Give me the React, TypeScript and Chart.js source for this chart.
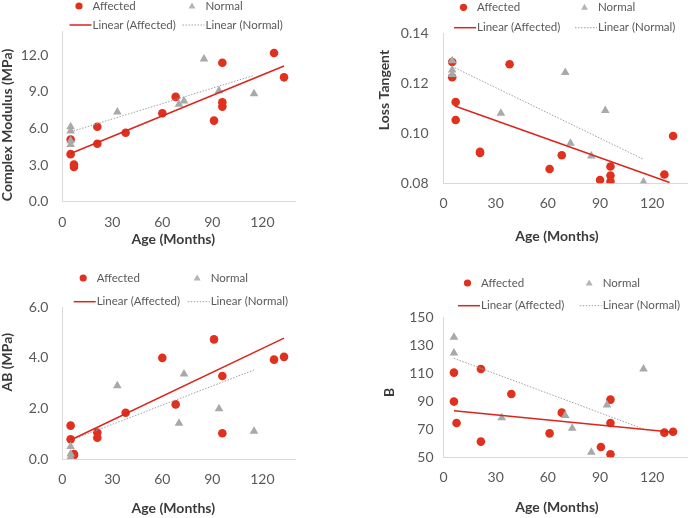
import React, { useEffect, useRef } from "react";
import { Chart, registerables } from "chart.js";

Chart.register(...registerables);

// ---------------- DATA ----------------
const xTicks = [0, 30, 60, 90, 120];

// Panel 1: Complex Modulus (MPa)
const cmAffectedAge = [5, 5, 7, 7, 21, 21, 38, 60, 68, 91, 96, 96, 96, 127, 133];
const cmAffectedVal = [5.1, 3.9, 3.05, 2.85, 6.15, 4.75, 5.65, 7.25, 8.6, 6.65, 11.4, 8.15, 7.8, 12.2, 10.2];
const cmNormalAge = [5, 5, 5, 5, 33, 70, 73, 85, 94, 115];
const cmNormalVal = [6.15, 5.8, 5.0, 4.7, 7.35, 8.0, 8.25, 11.7, 9.1, 8.85];
const cmAffTrendAge = [5, 133];
const cmAffTrendVal = [3.95, 11.13];
const cmNormTrendAge = [5, 115];
const cmNormTrendVal = [5.73, 10.36];
const cmYTicks = [0, 3, 6, 9, 12];

// Panel 2: Loss Tangent
const ltAffectedAge = [5, 5, 7, 7, 21, 21, 38, 61, 68, 90, 96, 96, 96, 127, 132];
const ltAffectedVal = [0.1285, 0.1224, 0.1125, 0.1053, 0.0921, 0.0926, 0.1276, 0.0857, 0.0912, 0.0813, 0.0867, 0.0831, 0.0807, 0.0835, 0.0989];
const ltNormalAge = [5, 5, 5, 33, 70, 73, 85, 93, 115];
const ltNormalVal = [0.129, 0.1253, 0.1235, 0.108, 0.1243, 0.096, 0.0909, 0.1091, 0.0805];
const ltAffTrendAge = [6.5, 130];
const ltAffTrendVal = [0.1109, 0.0803];
const ltNormTrendAge = [5, 115];
const ltNormTrendVal = [0.1267, 0.0896];
const ltYTicks = [0.08, 0.1, 0.12, 0.14];

// Panel 3: AB (MPa)
const abAffectedAge = [5, 5, 7, 7, 21, 21, 38, 60, 68, 91, 96, 96, 127, 133];
const abAffectedVal = [1.32, 0.78, 0.2, 0.15, 1.05, 0.84, 1.83, 4.0, 2.16, 4.73, 3.28, 1.02, 3.93, 4.04];
const abNormalAge = [5, 5, 5, 33, 70, 73, 94, 115];
const abNormalVal = [0.49, 0.2, 0.07, 2.9, 1.41, 3.36, 1.99, 1.1];
const abAffTrendAge = [5, 133];
const abAffTrendVal = [0.75, 4.78];
const abNormTrendAge = [5, 115];
const abNormTrendVal = [0.74, 3.52];
const abYTicks = [0, 2, 4, 6];

// Panel 4: B
const bAffectedAge = [6, 6, 7.5, 21.5, 21.5, 39, 61, 68, 90.5, 96, 96, 96, 127, 132];
const bAffectedVal = [110.5, 89.8, 74.5, 113.1, 61.2, 95.2, 67.1, 81.9, 57.4, 91.2, 74.5, 52.1, 67.6, 68.3];
const bNormalAge = [6, 6, 33.5, 70, 74, 85, 94, 115];
const bNormalVal = [135.7, 124.5, 78.3, 79.8, 70.7, 53.6, 87.4, 113.1];
const bAffTrendAge = [6, 132];
const bAffTrendVal = [83.3, 67.9];
const bNormTrendAge = [6, 115];
const bNormTrendVal = [120.7, 70.2];
const bYTicks = [50, 70, 90, 110, 130, 150];

// ---------------- STYLE ----------------
const FONT = "Lato, 'Open Sans', sans-serif";
const RED = "#e0301e";
const RED_LINE = "#d9261c";
const GRAY = "#a9a9a9";
const GRAY_LINE = "#a0a0a0";
const AXIS = "#d9d9d9";
const TICK_COLOR = "#595959";
const TITLE_COLOR = "#3b3b3b";
const W = 346;
const H = 259;

const zip = (xs: number[], ys: number[]) => xs.map((x, i) => ({ x, y: ys[i] }));

type Panel = {
  left: number;
  top: number;
  yTitle: string;
  affAge: number[];
  affVal: number[];
  normAge: number[];
  normVal: number[];
  affTrendAge: number[];
  affTrendVal: number[];
  normTrendAge: number[];
  normTrendVal: number[];
  yTicks: number[];
  yMin: number;
  yMax: number;
  dec: number;
  area: { l: number; r: number; t: number; b: number };
  yPad: number;
  xTitle: [number, number];
  yTitlePos: [number, number];
  legend: { t1: number; t2: number; r1: number; r2: number };
};

const panels: Panel[] = [
  {
    left: 0, top: 0, yTitle: "Complex Modulus (MPa)",
    affAge: cmAffectedAge, affVal: cmAffectedVal, normAge: cmNormalAge, normVal: cmNormalVal,
    affTrendAge: cmAffTrendAge, affTrendVal: cmAffTrendVal, normTrendAge: cmNormTrendAge, normTrendVal: cmNormTrendVal,
    yTicks: cmYTicks, yMin: 0, yMax: 14, dec: 1,
    area: { l: 62.3, r: 295.7, t: 31, b: 201.7 }, yPad: 14,
    xTitle: [173.3, 239.3], yTitlePos: [7.3, 125],
    legend: { t1: 92.5, t2: 205.5, r1: 6, r2: 25 },
  },
  {
    left: 346, top: 0, yTitle: "Loss Tangent",
    affAge: ltAffectedAge, affVal: ltAffectedVal, normAge: ltNormalAge, normVal: ltNormalVal,
    affTrendAge: ltAffTrendAge, affTrendVal: ltAffTrendVal, normTrendAge: ltNormTrendAge, normTrendVal: ltNormTrendVal,
    yTicks: ltYTicks, yMin: 0.08, yMax: 0.14, dec: 2,
    area: { l: 97.5, r: 341, t: 33.3, b: 183.3 }, yPad: 15,
    xTitle: [211, 236], yTitlePos: [38.3, 90],
    legend: { t1: 131, t2: 252, r1: 7.3, r2: 27.7 },
  },
  {
    left: 0, top: 259, yTitle: "AB (MPa)",
    affAge: abAffectedAge, affVal: abAffectedVal, normAge: abNormalAge, normVal: abNormalVal,
    affTrendAge: abAffTrendAge, affTrendVal: abAffTrendVal, normTrendAge: abNormTrendAge, normTrendVal: abNormTrendVal,
    yTicks: abYTicks, yMin: 0, yMax: 6, dec: 1,
    area: { l: 62.3, r: 295.7, t: 48.3, b: 200 }, yPad: 14,
    xTitle: [173.3, 249.3], yTitlePos: [7.3, 103.3],
    legend: { t1: 96.7, t2: 210.7, r1: 19, r2: 42.7 },
  },
  {
    left: 346, top: 259, yTitle: "B",
    affAge: bAffectedAge, affVal: bAffectedVal, normAge: bNormalAge, normVal: bNormalVal,
    affTrendAge: bAffTrendAge, affTrendVal: bAffTrendVal, normTrendAge: bNormTrendAge, normTrendVal: bNormTrendVal,
    yTicks: bYTicks, yMin: 50, yMax: 150, dec: 0,
    area: { l: 97.5, r: 341, t: 58.3, b: 198.3 }, yPad: 10,
    xTitle: [211, 248.3], yTitlePos: [43.3, 133.3],
    legend: { t1: 135, t2: 256.7, r1: 24, r2: 46.7 },
  },
];

function overlayPlugin(p: Panel) {
  return {
    id: "overlay",
    afterDraw(chart: any) {
      const ctx: CanvasRenderingContext2D = chart.ctx;
      const L = p.legend;
      ctx.save();
      // legend texts
      ctx.font = `11.5px ${FONT}`;
      ctx.fillStyle = TICK_COLOR;
      ctx.textBaseline = "middle";
      ctx.textAlign = "left";
      ctx.fillText("Affected", L.t1, L.r1);
      ctx.fillText("Normal", L.t2, L.r1);
      ctx.fillText("Linear (Affected)", L.t1, L.r2);
      ctx.fillText("Linear (Normal)", L.t2, L.r2);
      // circle marker
      ctx.fillStyle = RED;
      ctx.beginPath();
      ctx.arc(L.t1 - 13.5, L.r1, 3.6, 0, Math.PI * 2);
      ctx.fill();
      // triangle marker
      ctx.fillStyle = "#b5b5b5";
      const tx = L.t2 - 13.5, ty = L.r1 + 0.5, tr = 4;
      ctx.beginPath();
      ctx.moveTo(tx, ty - tr);
      ctx.lineTo(tx + tr * 0.87, ty + tr * 0.5);
      ctx.lineTo(tx - tr * 0.87, ty + tr * 0.5);
      ctx.closePath();
      ctx.fill();
      // solid red line
      ctx.strokeStyle = RED_LINE;
      ctx.lineWidth = 1.5;
      ctx.beginPath();
      ctx.moveTo(L.t1 - 23, L.r2);
      ctx.lineTo(L.t1 - 1, L.r2);
      ctx.stroke();
      // dotted gray line
      ctx.strokeStyle = GRAY_LINE;
      ctx.lineWidth = 1;
      ctx.setLineDash([1.5, 1.5]);
      ctx.beginPath();
      ctx.moveTo(L.t2 - 23, L.r2);
      ctx.lineTo(L.t2 - 1, L.r2);
      ctx.stroke();
      ctx.setLineDash([]);
      // axis titles
      ctx.font = `bold 14px ${FONT}`;
      ctx.fillStyle = TITLE_COLOR;
      ctx.textAlign = "center";
      ctx.textBaseline = "middle";
      ctx.fillText("Age (Months)", p.xTitle[0], p.xTitle[1]);
      ctx.translate(p.yTitlePos[0], p.yTitlePos[1]);
      ctx.rotate(-Math.PI / 2);
      ctx.fillText(p.yTitle, 0, 0);
      ctx.restore();
    },
  };
}

function PanelChart({ p }: { p: Panel }) {
  const ref = useRef<HTMLCanvasElement>(null);
  useEffect(() => {
    const chart = new Chart(ref.current as HTMLCanvasElement, {
      type: "scatter",
      data: {
        datasets: [
          {
            label: "Linear (Affected)",
            data: zip(p.affTrendAge, p.affTrendVal),
            showLine: true,
            borderColor: RED_LINE,
            borderWidth: 1.5,
            pointRadius: 0,
            fill: false,
          },
          {
            label: "Linear (Normal)",
            data: zip(p.normTrendAge, p.normTrendVal),
            showLine: true,
            borderColor: GRAY_LINE,
            borderWidth: 1,
            borderDash: [1.5, 1.5],
            pointRadius: 0,
            fill: false,
          },
          {
            label: "Normal",
            data: zip(p.normAge, p.normVal),
            pointStyle: "triangle",
            pointRadius: 5,
            backgroundColor: GRAY,
            borderColor: GRAY,
            borderWidth: 0,
          },
          {
            label: "Affected",
            data: zip(p.affAge, p.affVal),
            pointStyle: "circle",
            pointRadius: 4.3,
            backgroundColor: RED,
            borderColor: RED,
            borderWidth: 0,
          },
        ],
      } as any,
      options: {
        animation: false,
        responsive: false,
        maintainAspectRatio: false,
        devicePixelRatio: 1,
        layout: { padding: { top: p.area.t, right: W - p.area.r, left: 0, bottom: 0 } },
        plugins: { legend: { display: false }, tooltip: { enabled: false } },
        scales: {
          x: {
            type: "linear",
            min: 0,
            max: 140,
            afterBuildTicks: (s: any) => {
              s.ticks = xTicks.map((v) => ({ value: v }));
            },
            afterFit: (s: any) => {
              s.height = H - p.area.b;
            },
            ticks: {
              padding: 12,
              color: TICK_COLOR,
              font: { family: FONT, size: 14 },
              callback: (v: any) => String(v),
              maxRotation: 0,
            },
            grid: { display: false, drawTicks: false },
            border: { display: true, color: AXIS, width: 1 },
          },
          y: {
            type: "linear",
            min: p.yMin,
            max: p.yMax,
            afterBuildTicks: (s: any) => {
              s.ticks = p.yTicks.map((v) => ({ value: v }));
            },
            afterFit: (s: any) => {
              s.width = p.area.l;
            },
            ticks: {
              padding: p.yPad,
              color: TICK_COLOR,
              font: { family: FONT, size: 14 },
              callback: (v: any) => Number(v).toFixed(p.dec),
            },
            grid: { display: false, drawTicks: false },
            border: { display: true, color: AXIS, width: 1 },
          },
        },
      } as any,
      plugins: [overlayPlugin(p)],
    });
    return () => chart.destroy();
  }, []);
  return (
    <div style={{ position: "absolute", left: p.left, top: p.top, width: W, height: H }}>
      <canvas ref={ref} width={W} height={H} style={{ display: "block", width: W, height: H }} />
    </div>
  );
}

export default function App() {
  return (
    <div style={{ position: "absolute", left: 0, top: 0, width: 692, height: 518, background: "#ffffff" }}>
      {panels.map((p, i) => (
        <PanelChart key={i} p={p} />
      ))}
    </div>
  );
}
